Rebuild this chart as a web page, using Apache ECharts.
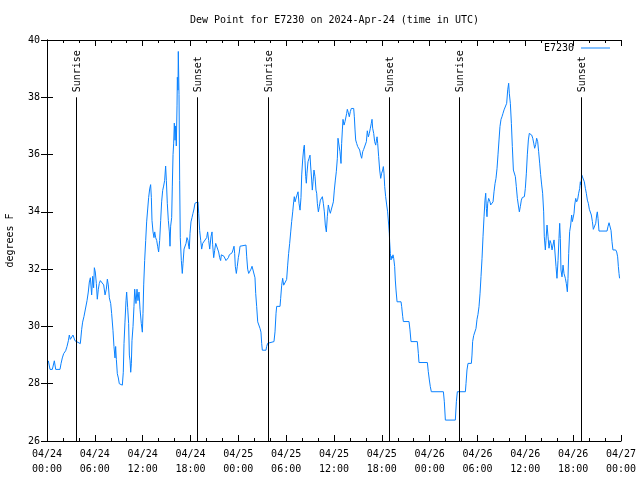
<!DOCTYPE html>
<html>
<head>
<meta charset="utf-8">
<script src="https://cdn.jsdelivr.net/npm/echarts@6/dist/echarts.min.js"></script>
<style>html,body{margin:0;padding:0;background:#fff}#c{width:640px;height:480px}</style>
</head>
<body>
<div id="c"></div>
<script>
// hours since 2024-04-24 00:00 UTC
const hours = [0.17,0.38,0.67,0.92,1.09,1.63,1.76,1.92,2.09,2.34,2.51,2.68,2.80,2.93,3.09,3.26,3.43,3.51,3.68,4.18,4.35,4.47,4.64,4.85,5.02,5.18,5.31,5.44,5.60,5.73,5.85,5.94,6.06,6.19,6.31,6.44,6.56,6.69,6.94,7.11,7.28,7.44,7.57,7.69,7.82,7.99,8.11,8.28,8.40,8.53,8.61,8.70,8.82,8.95,9.07,9.24,9.45,9.57,9.66,9.78,9.91,9.99,10.12,10.24,10.33,10.42,10.50,10.58,10.66,10.79,10.91,11.00,11.16,11.29,11.41,11.54,11.67,11.83,11.96,12.04,12.13,12.25,12.38,12.50,12.63,12.75,12.88,13.00,13.09,13.17,13.30,13.42,13.51,13.63,13.76,13.88,14.00,14.13,14.26,14.38,14.51,14.63,14.76,14.88,14.97,15.09,15.22,15.35,15.43,15.51,15.64,15.72,15.81,15.89,15.97,16.06,16.14,16.22,16.31,16.35,16.43,16.47,16.56,16.64,16.72,16.85,16.97,17.06,17.19,17.31,17.44,17.56,17.69,17.77,17.85,17.94,18.06,18.19,18.31,18.44,18.56,18.94,19.03,19.15,19.28,19.40,19.53,19.78,20.03,20.15,20.28,20.41,20.57,20.70,20.78,20.91,21.03,21.16,21.28,21.41,21.53,21.66,21.78,21.87,22.04,22.20,22.33,22.45,22.62,22.75,22.87,23.04,23.21,23.33,23.46,23.54,23.62,23.75,23.87,24.00,24.13,24.21,24.29,24.96,25.05,25.17,25.30,25.46,25.59,25.72,25.97,26.09,26.18,26.30,26.43,26.59,26.72,26.84,26.93,27.01,27.47,27.55,27.68,27.89,28.47,28.60,28.73,28.81,29.23,29.31,29.44,29.56,29.69,29.94,30.06,30.19,30.31,30.44,30.57,30.69,30.82,30.94,31.02,31.11,31.23,31.36,31.49,31.61,31.74,31.86,31.95,32.07,32.20,32.28,32.36,32.45,32.53,32.61,32.74,32.87,32.99,33.07,33.20,33.28,33.37,33.49,33.62,33.74,33.83,33.91,34.04,34.16,34.29,34.41,34.54,34.66,34.79,34.91,35.04,35.16,35.29,35.42,35.54,35.67,35.79,35.92,36.04,36.17,36.29,36.42,36.50,36.63,36.75,36.88,36.96,37.05,37.13,37.26,37.38,37.51,37.59,37.67,37.80,37.92,38.05,38.17,38.47,38.55,38.64,38.72,38.84,38.97,39.10,39.22,39.35,39.47,39.60,39.72,39.93,40.06,40.18,40.31,40.43,40.56,40.68,40.77,40.85,40.98,41.10,41.23,41.35,41.40,41.48,41.60,41.73,41.86,41.98,42.11,42.19,42.27,42.36,42.48,42.61,42.73,42.86,42.94,42.98,43.07,43.15,43.24,43.32,43.40,43.49,43.61,43.69,43.78,43.91,44.41,44.49,44.62,44.70,45.41,45.53,45.66,46.45,46.58,46.66,47.71,47.83,47.96,48.08,48.21,49.72,49.84,49.97,51.22,51.35,51.47,52.48,52.56,52.68,52.81,53.23,53.31,53.39,53.52,53.73,53.81,53.94,54.06,54.19,54.32,54.44,54.57,54.69,54.82,54.94,55.03,55.11,55.19,55.28,55.40,55.49,55.57,55.65,55.82,55.95,56.07,56.20,56.32,56.45,56.57,56.70,56.82,56.95,57.07,57.20,57.33,57.45,57.58,57.66,57.79,57.91,57.99,58.12,58.25,58.37,58.50,58.62,58.75,58.87,59.00,59.12,59.25,59.37,59.50,59.62,59.88,60.00,60.13,60.25,60.38,60.50,60.67,60.80,60.93,61.05,61.17,61.30,61.42,61.55,61.67,61.80,61.92,62.05,62.17,62.30,62.38,62.51,62.59,62.72,62.85,62.97,63.10,63.22,63.35,63.47,63.60,63.72,63.85,63.97,64.10,64.22,64.31,64.39,64.47,64.60,64.73,64.85,65.02,65.14,65.27,65.35,65.44,65.56,65.69,65.81,65.90,66.02,66.11,66.19,66.32,66.44,66.57,66.69,66.82,66.90,66.98,67.07,67.19,67.28,67.40,67.53,67.65,67.78,67.90,68.03,68.15,68.28,68.41,68.53,68.70,68.83,68.95,69.03,69.12,69.24,70.25,70.36,70.50,70.66,70.75,70.87,70.99,71.33,71.46,71.58,71.67,71.75,71.82];
const dewPoint = [28.8,28.5,28.5,28.8,28.5,28.5,28.7,28.9,29.05,29.15,29.3,29.5,29.7,29.55,29.5,29.7,29.75,29.5,29.45,29.4,29.9,30.15,30.35,30.4,30.9,31.2,31.55,31.7,31.1,31.75,31.35,32.05,31.9,31.5,30.95,31.3,31.5,31.6,31.6,31.45,31.1,31.3,31.65,31.45,31.0,30.8,30.45,29.85,29.3,28.9,29.3,28.85,28.35,28.2,28.0,27.95,27.95,28.4,29.4,30.15,30.9,31.2,30.65,30.1,29.0,28.8,28.4,28.7,29.5,30.0,30.7,31.3,30.8,31.3,30.9,31.2,30.6,30.1,29.8,30.45,31.45,32.3,33.0,33.65,34.1,34.5,34.8,34.95,34.5,33.7,33.3,33.1,33.3,33.1,33.0,32.8,32.6,33.0,33.7,34.35,34.75,34.9,35.1,35.6,35.1,34.3,33.7,33.3,32.8,33.5,33.8,34.9,36.0,36.4,37.1,36.5,37.0,36.3,37.7,38.7,38.25,39.6,38.1,35.1,33.1,32.3,31.85,32.2,32.7,32.7,32.9,33.1,33.0,32.8,32.7,33.25,33.65,33.8,33.95,34.1,34.3,34.35,33.95,33.35,33.0,32.7,32.9,32.95,33.1,33.3,33.0,32.7,33.13,33.3,32.85,32.4,32.65,32.9,32.96,32.9,32.6,32.4,32.3,32.5,32.53,32.45,32.4,32.3,32.3,32.4,32.5,32.55,32.57,32.67,32.8,32.55,32.1,31.85,32.1,32.4,32.6,32.8,32.84,32.84,32.43,32.0,31.85,31.85,32.0,32.1,32.1,31.7,31.15,30.7,30.16,30.16,29.93,29.8,29.4,29.17,29.17,29.3,29.41,29.47,29.47,29.81,30.46,30.7,30.7,30.98,31.44,31.68,31.44,31.4,31.64,32.14,32.55,32.9,33.3,33.66,34.0,34.35,34.53,34.35,34.35,34.59,34.7,34.3,34.06,34.5,35.29,35.81,36.22,36.33,35.8,35.23,35.0,35.35,35.75,35.87,35.98,35.6,35.11,34.76,35.05,35.46,35.23,34.76,34.65,34.3,34.0,34.18,34.41,34.47,34.53,34.3,34.0,33.54,33.3,33.83,34.24,34.06,33.95,33.89,33.95,34.35,34.76,35.11,35.4,35.87,36.57,36.62,36.1,35.69,36.39,36.86,37.23,37.03,37.15,37.21,37.44,37.58,37.46,37.32,37.5,37.61,37.61,37.32,36.86,36.51,36.39,36.28,36.25,36.16,35.98,35.87,36.1,36.18,36.18,36.45,36.83,36.62,36.74,36.92,37.09,37.23,36.92,36.74,36.45,36.33,36.55,36.62,36.39,35.93,35.46,35.17,35.35,35.46,35.58,35.35,34.88,34.53,34.24,34.0,33.54,33.25,32.96,32.55,32.32,32.45,32.38,32.5,32.38,32.09,31.62,31.27,30.86,30.86,30.69,30.34,30.17,30.17,29.88,29.47,29.47,29.06,28.74,28.74,28.42,28.13,27.9,27.72,27.72,27.37,26.73,26.73,27.37,27.72,27.72,28.01,28.48,28.71,28.71,29.0,29.47,29.68,29.68,29.93,30.25,30.42,30.69,31.16,31.74,32.38,33.13,33.83,34.41,34.65,34.12,33.83,34.3,34.47,34.47,34.35,34.24,34.24,34.35,34.7,34.99,35.17,35.52,35.99,36.51,36.98,37.23,37.32,37.44,37.56,37.62,37.62,37.79,38.26,38.49,38.14,37.79,37.09,36.28,35.46,35.4,35.23,34.88,34.47,34.24,34.0,34.18,34.41,34.5,34.53,34.82,35.35,35.99,36.51,36.74,36.74,36.68,36.57,36.4,36.22,36.35,36.57,36.45,36.1,35.7,35.3,34.94,34.65,34.0,33.13,32.67,33.0,33.54,33.13,32.73,33.0,32.9,32.67,32.73,33.02,32.96,32.09,31.68,32.3,33.07,33.6,33.07,31.97,31.73,32.14,31.85,31.68,31.5,31.21,31.68,32.55,33.31,33.54,33.89,33.66,33.6,33.95,34.24,34.47,34.35,34.44,34.65,34.82,35.05,34.94,35.29,35.32,35.29,35.05,34.82,34.65,34.41,34.3,34.09,34.07,33.89,33.66,33.39,33.39,33.6,33.89,34.0,33.77,33.33,33.33,33.48,33.62,33.62,33.35,32.96,32.67,32.67,32.6,32.43,32.09,31.85,31.68];
const sunEventHours = [3.66, 18.85, 27.75, 42.94, 51.72, 67.0];
const sunEventNames = ['Sunrise','Sunset','Sunrise','Sunset','Sunrise','Sunset'];
const dayLabels = ['04/24','04/25','04/26','04/27'];
const seriesName = 'E7230';
const titleText = 'Dew Point for E7230 on 2024-Apr-24 (time in UTC)';

const FONT = 'DejaVu Sans Mono';
const LINE_COLOR = '#0a82ff';
const chart = echarts.init(document.getElementById('c'), null, {renderer: 'canvas'});
const data = hours.map((h, i) => [h, dewPoint[i]]);
function xLabel(v) {
  const d = Math.floor(v / 24 + 1e-9);
  const hh = Math.round(v - d * 24);
  return dayLabels[d] + '\n' + (hh < 10 ? '0' : '') + hh + ':00';
}
const axisCommonX = {
  type: 'value', min: 0, max: 72, interval: 6,
  axisLine: {show: true, lineStyle: {color: '#000', width: 1}},
  axisTick: {show: true, inside: true, length: 6, lineStyle: {color: '#000'}},
  minorTick: {show: true, splitNumber: 3, length: 3, lineStyle: {color: '#000'}},
  splitLine: {show: false}, minorSplitLine: {show: false}
};
const axisCommonY = {
  type: 'value', min: 26, max: 40, interval: 2,
  axisLine: {show: true, lineStyle: {color: '#000', width: 1}},
  axisTick: {show: true, inside: true, length: 6, lineStyle: {color: '#000'}},
  splitLine: {show: false}
};
chart.setOption({
  animation: false,
  backgroundColor: '#fff',
  textStyle: {fontFamily: FONT},
  title: {
    text: titleText, left: 190, top: 15, padding: 0,
    textStyle: {fontFamily: FONT, fontSize: 10, fontWeight: 'normal', color: '#000'}
  },
  legend: {
    data: [seriesName], right: 30, top: 43, align: 'right',
    icon: 'rect', itemWidth: 29, itemHeight: 1, padding: 0,
    itemStyle: {color: LINE_COLOR},
    textStyle: {fontFamily: FONT, fontSize: 10, color: '#000', padding: [0, 2, 0, 0]}
  },
  grid: {left: 47, right: 19, top: 40, bottom: 39, containLabel: false, outerBoundsMode: 'none'},
  xAxis: [
    Object.assign({}, axisCommonX, {
      position: 'bottom',
      axisLabel: {show: true, formatter: xLabel, color: '#000', fontFamily: FONT, fontSize: 10, lineHeight: 15, margin: 6,
        showMinLabel: true, showMaxLabel: true, hideOverlap: false}
    }),
    Object.assign({}, axisCommonX, {position: 'top', axisLabel: {show: false}})
  ],
  yAxis: [
    Object.assign({}, axisCommonY, {
      position: 'left',
      name: 'degrees F', nameLocation: 'middle', nameRotate: 90, nameGap: 32,
      nameTextStyle: {fontFamily: FONT, fontSize: 10, color: '#000'},
      axisLabel: {show: true, color: '#000', fontFamily: FONT, fontSize: 10, margin: 7}
    }),
    Object.assign({}, axisCommonY, {position: 'right', axisLabel: {show: false}})
  ],
  series: [{
    name: seriesName, type: 'line', data: data,
    xAxisIndex: 0, yAxisIndex: 0,
    showSymbol: false, symbol: 'none',
    lineStyle: {color: LINE_COLOR, width: 1},
    itemStyle: {color: LINE_COLOR},
    markLine: {
      silent: true, symbol: ['none', 'none'],
      label: {show: false},
      lineStyle: {color: '#000', width: 1, type: 'solid'},
      data: sunEventHours.map(h => [{coord: [h, 26]}, {coord: [h, 38]}])
    }
  }]
});
const graphics = sunEventHours.map((h, i) => {
  const p = chart.convertToPixel({xAxisIndex: 0, yAxisIndex: 0}, [h, 38]);
  return {
    type: 'text', x: p[0] + 1, y: p[1] - 5, rotation: Math.PI / 2,
    style: {text: sunEventNames[i], fill: '#000', font: '10px "DejaVu Sans Mono"', textAlign: 'left', textVerticalAlign: 'middle'}
  };
});
chart.setOption({graphic: graphics});
</script>
</body>
</html>
